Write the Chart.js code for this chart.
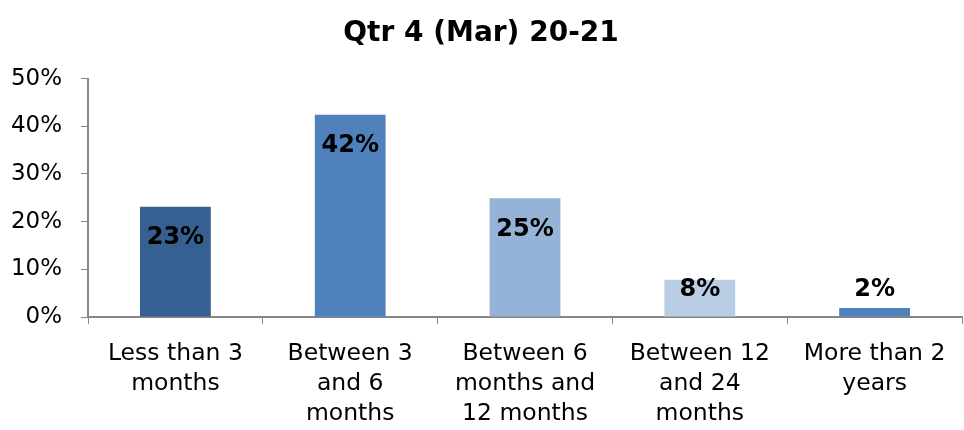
<!DOCTYPE html>
<html>
<head>
<meta charset="utf-8">
<script src="https://cdn.jsdelivr.net/npm/chart.js@4/dist/chart.umd.min.js"></script>
<style>
    html, body { margin: 0; padding: 0; background: #fff; }
    #wrap { width: 964px; height: 430px; }
</style>
</head>
<body>
<div id="wrap"><canvas id="chart-periodo"></canvas></div>
<script>
// categorias (con saltos de linea como en el original)
var categorias = [
    ['Less than 3', 'months'],
    ['Between 3', 'and 6', 'months'],
    ['Between 6', 'months and', '12 months'],
    ['Between 12', 'and 24', 'months'],
    ['More than 2', 'years']
];
var valores = [23.1, 42.4, 24.9, 7.8, 1.9];
var colores = ['#376092', '#4F81BD', '#95B3D7', '#B9CDE5', '#4F81BD'];
var titulo = 'Qtr 4 (Mar) 20-21';

var fuente = "'DejaVu Sans', sans-serif";

// etiquetas de valor dentro del extremo de la barra
var etiquetasBarras = {
    id: 'etiquetasBarras',
    afterDatasetsDraw: function (chart) {
        var ctx = chart.ctx;
        var meta = chart.getDatasetMeta(0);
        ctx.save();
        ctx.font = 'bold 24px ' + fuente;
        ctx.fillStyle = '#000';
        ctx.textAlign = 'center';
        ctx.textBaseline = 'middle';
        meta.data.forEach(function (bar, i) {
            var y = Math.min(bar.y + 31, bar.base - 27);
            ctx.fillText(Math.round(valores[i]) + '%', bar.x, y);
        });
        ctx.restore();
    }
};

var ctx = document.getElementById('chart-periodo');
var chartPeriodo = new Chart(ctx, {
    type: 'bar',
    data: {
        labels: categorias,
        datasets: [{
            data: valores,
            backgroundColor: colores,
            borderWidth: 0,
            categoryPercentage: 1,
            barPercentage: 0.405
        }]
    },
    plugins: [etiquetasBarras],
    options: {
        responsive: true,
        maintainAspectRatio: false,
        animation: false,
        layout: { padding: { right: 2, top: 0 } },
        plugins: {
            legend: { display: false },
            tooltip: { enabled: false },
            title: {
                display: true,
                text: titulo,
                color: '#000',
                font: { family: fuente, size: 28, weight: 'bold' },
                padding: { top: 17, bottom: 28 }
            }
        },
        scales: {
            x: {
                grid: {
                    display: true,
                    drawOnChartArea: false,
                    offset: true,
                    tickLength: 7,
                    color: '#868686'
                },
                border: { color: '#868686', width: 2 },
                ticks: {
                    color: '#000',
                    font: { family: fuente, size: 23.5, lineHeight: 1.28 },
                    padding: 15,
                    maxRotation: 0,
                    autoSkip: false
                },
                afterFit: function (scale) { scale.height = 113; }
            },
            y: {
                min: 0,
                max: 50,
                grid: {
                    display: true,
                    drawOnChartArea: false,
                    tickLength: 7,
                    color: '#868686'
                },
                border: { color: '#868686', width: 2 },
                ticks: {
                    stepSize: 10,
                    color: '#000',
                    font: { family: fuente, size: 23 },
                    padding: 19,
                    callback: function (v) { return v + '%'; }
                },
                afterFit: function (scale) { scale.width = 88; }
            }
        }
    }
});
</script>
</body>
</html>
